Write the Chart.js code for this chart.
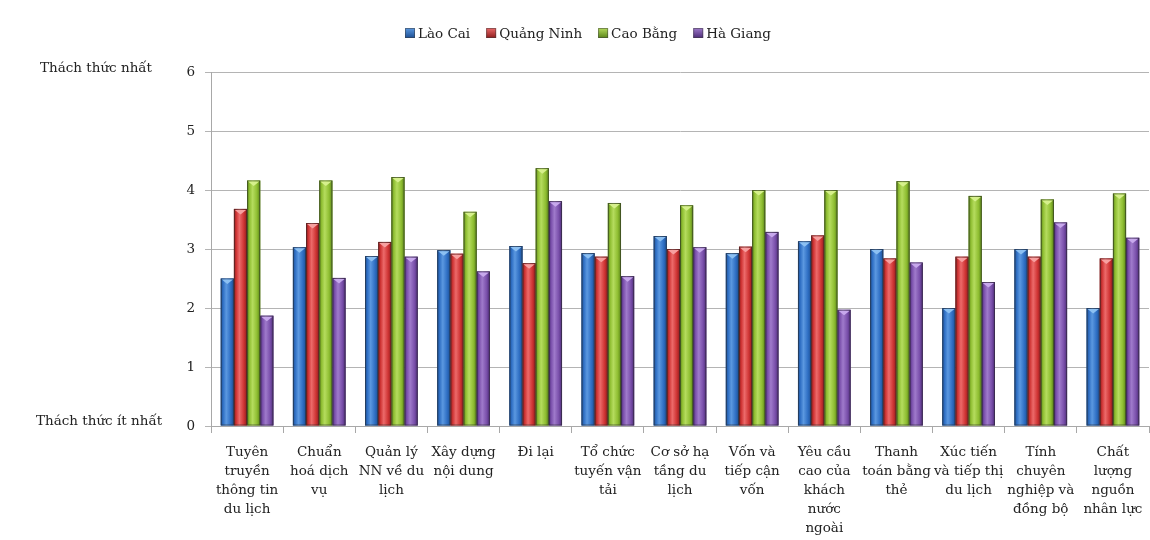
<!DOCTYPE html>
<html lang="vi">
<head>
<meta charset="utf-8">
<title>Thách thức du lịch theo tỉnh</title>
<script src="https://cdn.jsdelivr.net/npm/chart.js@4/dist/chart.umd.min.js"></script>
<style>
  html, body { margin: 0; padding: 0; background: #ffffff; }
  #wrap { width: 1150px; height: 540px; position: relative; }
</style>
</head>
<body>
<div id="wrap"><canvas id="c" width="1150" height="540"></canvas></div>
<script>
// Categories (multi-line labels as shown under each group)
const categories = [
  ["Tuyên", "truyền", "thông tin", "du lịch"],
  ["Chuẩn", "hoá dịch", "vụ"],
  ["Quản lý", "NN về du", "lịch"],
  ["Xây dựng", "nội dung"],
  ["Đi lại"],
  ["Tổ chức", "tuyến vận", "tải"],
  ["Cơ sở hạ", "tầng du", "lịch"],
  ["Vốn và", "tiếp cận", "vốn"],
  ["Yêu cầu", "cao của", "khách", "nước", "ngoài"],
  ["Thanh", "toán bằng", "thẻ"],
  ["Xúc tiến", "và tiếp thị", "du lịch"],
  ["Tính", "chuyên", "nghiệp và", "đồng bộ"],
  ["Chất", "lượng", "nguồn", "nhân lực"]
];

// Series values (score per challenge)
const laoCai     = [2.50, 3.03, 2.88, 2.98, 3.05, 2.93, 3.22, 2.93, 3.13, 3.00, 2.00, 3.00, 2.00];
const quangNinh  = [3.68, 3.44, 3.12, 2.92, 2.76, 2.87, 3.00, 3.04, 3.23, 2.84, 2.87, 2.87, 2.84];
const caoBang    = [4.16, 4.16, 4.22, 3.63, 4.37, 3.78, 3.74, 4.00, 4.00, 4.15, 3.90, 3.84, 3.94];
const haGiang    = [1.87, 2.51, 2.87, 2.62, 3.81, 2.54, 3.03, 3.29, 1.97, 2.77, 2.44, 3.45, 3.19];

const seriesNames = ["Lào Cai", "Quảng Ninh", "Cao Bằng", "Hà Giang"];

// Y axis tick values and end labels
const yTicks = [0, 1, 2, 3, 4, 5, 6];
const yEndLabels = { top: "Thách thức nhất", bottom: "Thách thức ít nhất" };

const FONT = "'DejaVu Serif', 'Liberation Serif', serif";
const FSIZE = 13.5;

// Palette per series: dark edge, base, light highlight, cap
const palette = [
  { dark: "#1d4f93", base: "#2f6fc4", light: "#5b98e0", cap: "#8cc0f2" },
  { dark: "#8e1c1c", base: "#cf3434", light: "#ec6a6a", cap: "#f7a0a0" },
  { dark: "#5a8418", base: "#8fbe32", light: "#b5dc5e", cap: "#d6f08c" },
  { dark: "#4d2c78", base: "#7a50ab", light: "#9f7acb", cap: "#c7a8ec" }
];

// Shaded bars: horizontal gradient, thin dark edge and a light bevel at the top
const barShading = {
  id: "barShading",
  afterDatasetsDraw(chart) {
    const ctx = chart.ctx;
    ctx.save();
    chart.data.datasets.forEach((ds, di) => {
      const meta = chart.getDatasetMeta(di);
      const p = palette[di];
      meta.data.forEach(el => {
        const { x, y, base, width } = el.getProps(["x", "y", "base", "width"], true);
        const left = x - width / 2;
        const h = base - y;
        const g = ctx.createLinearGradient(left, 0, left + width, 0);
        g.addColorStop(0, p.dark);
        g.addColorStop(0.18, p.base);
        g.addColorStop(0.42, p.light);
        g.addColorStop(0.75, p.base);
        g.addColorStop(1, p.dark);
        ctx.fillStyle = g;
        ctx.fillRect(left, y, width, h);
        ctx.strokeStyle = "rgba(40,40,40,0.55)";
        ctx.lineWidth = 1;
        ctx.strokeRect(left + 0.5, y + 0.5, width - 1, h - 1);
        // bevel cap
        ctx.beginPath();
        ctx.moveTo(left + 1, y + 1);
        ctx.lineTo(left + width - 1, y + 1);
        ctx.lineTo(x, y + 5.5);
        ctx.closePath();
        ctx.fillStyle = p.cap;
        ctx.fill();
      });
    });
    ctx.restore();
  }
};

// Legend row and the two y-axis end captions
const extraText = {
  id: "extraText",
  afterDraw(chart) {
    const ctx = chart.ctx;
    const ys = chart.scales.y;
    ctx.save();
    ctx.font = FSIZE + "px " + FONT;
    ctx.fillStyle = "#222";
    ctx.textBaseline = "alphabetic";
    ctx.textAlign = "left";
    ctx.fillText(yEndLabels.top, 40, ys.getPixelForValue(6));
    ctx.fillText(yEndLabels.bottom, 36, ys.getPixelForValue(0) - 1);

    // legend
    const box = 10, gapText = 3, gapItem = 16;
    let lx = 405;
    const ly = 33;
    ctx.textBaseline = "middle";
    chart.data.datasets.forEach((d, i) => {
      const p = palette[i];
      const g = ctx.createLinearGradient(0, ly - box / 2, 0, ly + box / 2);
      g.addColorStop(0, p.light);
      g.addColorStop(1, p.dark);
      ctx.fillStyle = g;
      ctx.fillRect(lx, ly - box / 2, box, box);
      ctx.strokeStyle = "rgba(60,60,60,0.5)";
      ctx.strokeRect(lx + 0.5, ly - box / 2 + 0.5, box - 1, box - 1);
      ctx.fillStyle = "#222";
      ctx.fillText(d.label, lx + box + gapText, ly + 1);
      lx += box + gapText + ctx.measureText(d.label).width + gapItem;
    });
    ctx.restore();
  }
};

const values = [laoCai, quangNinh, caoBang, haGiang];

new Chart(document.getElementById("c"), {
  type: "bar",
  data: {
    labels: categories,
    datasets: values.map((v, i) => ({
      label: seriesNames[i],
      data: v,
      backgroundColor: palette[i].base,
      borderWidth: 0,
      categoryPercentage: 0.73,
      barPercentage: 1.0
    }))
  },
  options: {
    responsive: false,
    animation: false,
    devicePixelRatio: 1,
    layout: { padding: { left: 181, right: 1, top: 72, bottom: 0 } },
    plugins: {
      legend: { display: false },
      tooltip: { enabled: false }
    },
    scales: {
      x: {
        offset: true,
        border: { display: true, color: "#a8a8a8", width: 1 },
        grid: { offset: true, drawOnChartArea: false, drawTicks: true, tickLength: 7, color: "#a8a8a8" },
        ticks: {
          autoSkip: false, maxRotation: 0, minRotation: 0,
          padding: 10,
          color: "#222",
          font: { family: FONT, size: FSIZE, lineHeight: 1.4 }
        },
        afterFit(scale) {
          scale.height = 114;
          scale.paddingLeft = 0;
          scale.paddingRight = 0;
        }
      },
      y: {
        min: 0, max: 6,
        afterBuildTicks(scale) { scale.ticks = yTicks.map(v => ({ value: v })); },
        border: { display: true, color: "#a8a8a8", width: 1 },
        grid: { color: "#b4b4b4", lineWidth: 1, drawTicks: true, tickLength: 6 },
        ticks: {
          padding: 10,
          color: "#222",
          font: { family: FONT, size: FSIZE }
        },
        afterFit(scale) { scale.width = 30; }
      }
    }
  },
  plugins: [barShading, extraText]
});
</script>
</body>
</html>
